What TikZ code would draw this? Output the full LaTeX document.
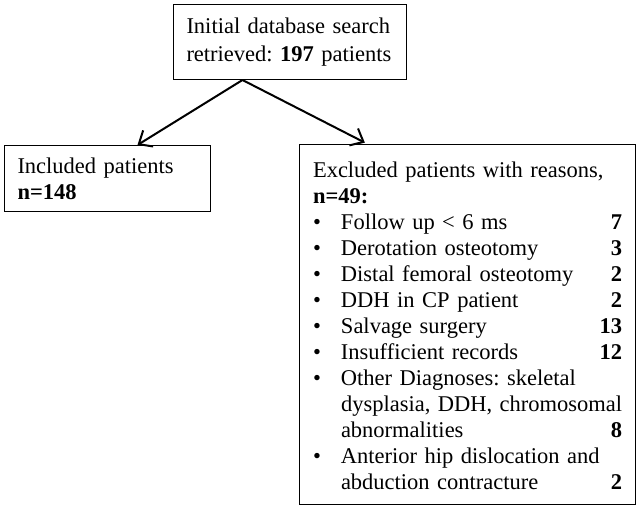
\documentclass[tikz,border=0pt]{standalone}
\usepackage{fontspec}
\setmainfont{Liberation Serif}
\usetikzlibrary{arrows.meta}
\frenchspacing

\begin{document}
\begin{tikzpicture}[x=1pt,y=-1pt,
        box/.style={draw=black,line width=1pt,align=left,inner ysep=0pt,
            font=\fontsize{22.5}{26}\selectfont},
        flow/.style={line width=2pt,-{Straight Barb[length=11pt,width=19pt]}}]
        \useasboundingbox (0,0) rectangle (644,511);

        % Draw the search box
        \node[box,anchor=north west,text width=207pt,inner xsep=13pt,
            minimum height=75pt,font=\fontsize{22.5}{28.5}\selectfont]
            (search) at (173,4) {\mbox{Initial database search}\\\mbox{retrieved: \textbf{197} patients}};

        % Draw the included box
        \node[box,anchor=north west,text width=180pt,inner xsep=13pt,
            minimum height=66pt]
            (incl) at (4,145) {Included patients\\\textbf{n=148}};

        % Draw the excluded box
        \node[box,anchor=north west,text width=309pt,inner xsep=13.5pt,
            minimum height=360pt]
            (excl) at (299,144) {\raisebox{-4pt}[\height][\depth]{%
            \begin{tabular}{@{}p{28pt}@{}p{281pt}@{}}
                \multicolumn{2}{@{}l@{}}{Excluded patients with reasons,}\\
                \multicolumn{2}{@{}l@{}}{\textbf{n=49:}}\\
                \textbullet & Follow up < 6 ms\hfill\textbf{7}\\
                \textbullet & Derotation osteotomy\hfill\textbf{3}\\
                \textbullet & Distal femoral osteotomy\hfill\textbf{2}\\
                \textbullet & DDH in CP patient\hfill\textbf{2}\\
                \textbullet & Salvage surgery\hfill\textbf{13}\\
                \textbullet & Insufficient records\hfill\textbf{12}\hspace{3pt}\\
                \textbullet & Other Diagnoses: skeletal\\
                & \makebox[281pt][l]{dysplasia, DDH, chromosomal}\\
                & abnormalities\hfill\textbf{8}\\
                \textbullet & Anterior hip dislocation and\\
                & abduction contracture\hfill\textbf{2}\\
            \end{tabular}}};

        % Draw the arrows
        \draw[flow] ([xshift=-47.5pt]search.south) -- ([xshift=30pt]incl.north);
        \draw[flow,shorten >=3pt] ([xshift=-47.5pt]search.south) -- ([xshift=-100pt]excl.north);
\end{tikzpicture}
\end{document}
